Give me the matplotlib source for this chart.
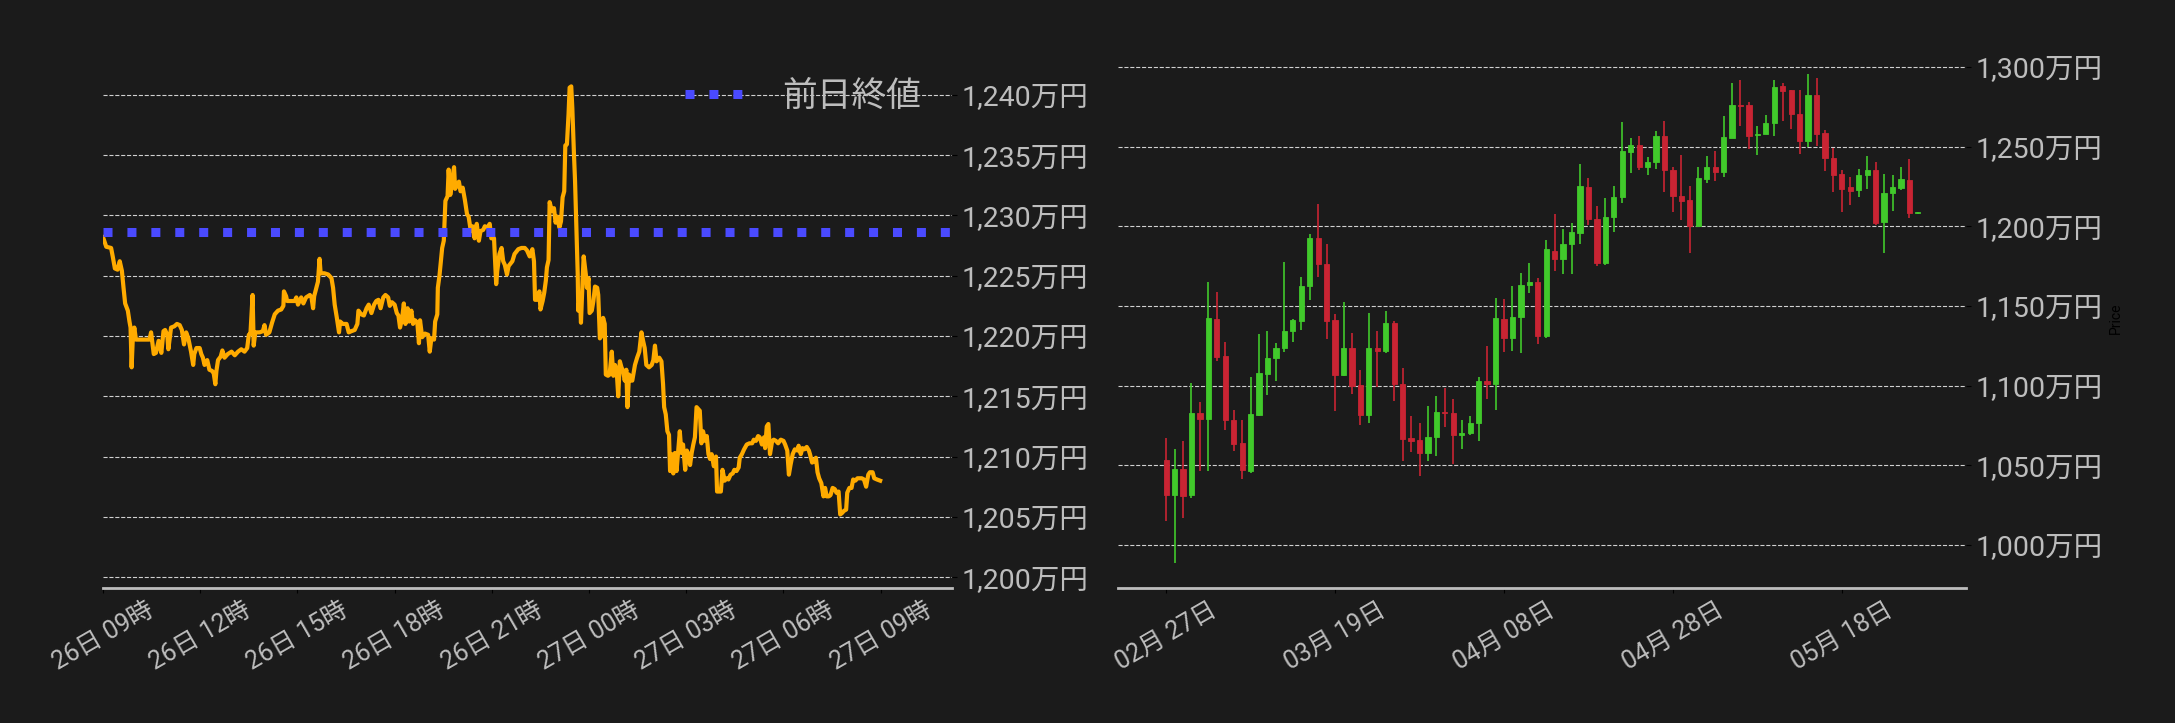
import matplotlib
matplotlib.use("Agg")
import matplotlib.pyplot as plt
import matplotlib.dates as mdates
from matplotlib.ticker import FuncFormatter, MultipleLocator
import numpy as np
import pandas as pd

plt.rcParams['font.family'] = ['Roboto', 'Noto Sans CJK JP', 'DejaVu Sans']

# --- 当日の値動き (26日 09時からの経過分, 万円) ---
minutes = [0, 6, 15, 18, 22, 27, 31, 35, 38, 41, 46, 49, 51, 53, 55, 58, 61, 64, 86, 89,
           94, 98, 103, 108, 112, 115, 119, 121, 126, 132, 137, 142, 146, 150, 154, 158, 163, 167, 169, 173,
           179, 182, 185, 188, 193, 197, 202, 205, 208, 210, 213, 218, 221, 225, 231, 238, 244, 250, 256, 262,
           267, 270, 273, 277, 279, 282, 290, 296, 299, 302, 308, 313, 318, 324, 330, 334, 335, 339, 341, 355,
           358, 361, 367, 371, 376, 383, 386, 389, 391, 395, 398, 401, 403, 410, 417, 423, 426, 429, 433, 437,
           439, 444, 451, 455, 460, 466, 471, 473, 478, 483, 488, 492, 497, 502, 506, 510, 514, 519, 523, 528,
           531, 535, 540, 544, 547, 550, 554, 557, 560, 564, 567, 571, 574, 578, 582, 585, 587, 591, 596, 602,
           605, 608, 613, 615, 619, 620, 623, 628, 631, 634, 638, 640, 643, 645, 648, 650, 652, 656, 659, 662,
           666, 670, 674, 677, 681, 684, 688, 692, 696, 699, 704, 707, 712, 716, 719, 724, 728, 730, 734, 738,
           741, 744, 748, 751, 758, 762, 769, 775, 781, 785, 790, 795, 798, 800, 804, 808, 810, 814, 817, 820,
           822, 825, 827, 831, 835, 838, 841, 845, 848, 851, 854, 856, 859, 862, 864, 867, 869, 872, 874, 877,
           879, 880, 883, 885, 888, 890, 894, 896, 899, 901, 905, 908, 911, 915, 917, 920, 923, 926, 929, 931,
           935, 938, 942, 945, 948, 951, 954, 957, 960, 963, 966, 969, 971, 974, 977, 980, 985, 989, 993, 997,
           1000, 1003, 1006, 1011, 1016, 1019, 1022, 1025, 1030, 1034, 1037, 1039, 1042, 1045, 1048, 1050, 1053, 1056, 1059, 1062,
           1065, 1068, 1071, 1074, 1078, 1081, 1084, 1087, 1090, 1093, 1096, 1099, 1103, 1105, 1108, 1111, 1115, 1118, 1121, 1124,
           1127, 1131, 1135, 1137, 1141, 1144, 1147, 1151, 1155, 1158, 1162, 1166, 1169, 1173, 1177, 1179, 1183, 1187, 1192, 1197,
           1202, 1205, 1209, 1213, 1216, 1220, 1224, 1226, 1229, 1232, 1235, 1239, 1242, 1246, 1250, 1255, 1260, 1263, 1267, 1270,
           1273, 1277, 1281, 1286, 1288, 1292, 1295, 1299, 1303, 1307, 1309, 1313, 1316, 1320, 1323, 1326, 1330, 1334, 1337, 1340,
           1344, 1347, 1351, 1355, 1358, 1362, 1365, 1368, 1372, 1376, 1378, 1382, 1386, 1389, 1393, 1397, 1402, 1405, 1409, 1413,
           1417, 1420, 1425, 1428, 1433, 1439]
prices = [1228.2, 1227.4, 1227.3, 1226.6, 1225.6, 1225.5, 1226.2, 1225.4, 1224.0, 1222.7, 1222.1, 1221.2, 1220.7, 1217.4, 1219.6, 1220.7, 1219.7, 1219.7, 1219.7, 1220.3,
          1218.5, 1218.6, 1219.6, 1218.6, 1220.4, 1220.5, 1220.1, 1218.9, 1220.7, 1220.8, 1221.0, 1220.9, 1220.5, 1219.3, 1220.3, 1219.8, 1218.7, 1217.6, 1218.5, 1219.0,
          1219.0, 1218.5, 1218.2, 1217.6, 1218.0, 1217.2, 1217.1, 1216.9, 1216.0, 1217.1, 1218.0, 1218.3, 1218.8, 1218.2, 1218.5, 1218.7, 1218.4, 1218.7, 1218.9, 1218.7,
          1219.0, 1220.1, 1220.2, 1223.4, 1219.2, 1220.3, 1220.3, 1220.4, 1220.9, 1220.1, 1220.3, 1221.1, 1221.8, 1222.1, 1222.2, 1222.5, 1223.7, 1223.3, 1222.9, 1222.9,
          1223.2, 1222.6, 1223.2, 1222.7, 1223.2, 1223.4, 1223.2, 1222.3, 1223.3, 1224.0, 1224.5, 1226.4, 1225.2, 1225.2, 1225.1, 1224.8, 1224.0, 1222.6, 1221.5, 1220.3,
          1221.2, 1221.0, 1221.0, 1220.3, 1220.4, 1220.5, 1221.0, 1222.1, 1221.8, 1221.7, 1222.3, 1222.6, 1221.9, 1222.6, 1222.9, 1223.0, 1222.3, 1223.2, 1223.4, 1223.2,
          1222.5, 1222.8, 1222.6, 1221.9, 1221.7, 1220.7, 1221.5, 1222.7, 1221.0, 1222.3, 1221.2, 1222.1, 1221.0, 1221.3, 1221.1, 1219.4, 1221.3, 1219.9, 1220.2, 1220.1,
          1218.7, 1219.8, 1219.7, 1221.2, 1221.8, 1224.0, 1225.0, 1227.3, 1227.9, 1231.2, 1231.6, 1233.8, 1231.7, 1232.3, 1233.4, 1234.0, 1232.2, 1232.6, 1232.8, 1232.0,
          1232.3, 1231.3, 1230.1, 1229.9, 1228.7, 1229.1, 1228.1, 1229.3, 1227.9, 1228.7, 1228.8, 1229.1, 1229.0, 1229.3, 1228.1, 1228.1, 1224.3, 1225.4, 1226.8, 1227.3,
          1226.2, 1225.9, 1225.1, 1225.8, 1226.2, 1226.8, 1227.2, 1227.3, 1227.3, 1227.1, 1226.6, 1227.2, 1226.2, 1223.0, 1223.0, 1223.7, 1222.2, 1222.9, 1223.6, 1224.6,
          1225.7, 1226.3, 1231.1, 1230.4, 1230.6, 1229.4, 1229.9, 1229.0, 1229.5, 1231.5, 1232.0, 1235.8, 1235.9, 1238.4, 1240.6, 1240.7, 1238.9, 1235.1, 1232.9, 1228.4,
          1225.1, 1222.1, 1223.4, 1221.1, 1224.6, 1226.6, 1225.1, 1224.0, 1224.8, 1221.9, 1222.1, 1222.9, 1224.1, 1224.0, 1223.4, 1219.8, 1220.0, 1221.5, 1221.0, 1216.8,
          1216.7, 1216.8, 1218.7, 1216.7, 1217.6, 1217.2, 1215.0, 1217.9, 1217.4, 1217.1, 1216.3, 1217.2, 1214.1, 1216.8, 1216.3, 1216.3, 1217.6, 1218.2, 1218.7, 1220.3,
          1219.6, 1219.0, 1217.6, 1217.4, 1217.6, 1218.0, 1219.2, 1217.9, 1218.2, 1217.9, 1216.0, 1214.1, 1213.5, 1212.1, 1211.8, 1208.8, 1210.2, 1208.6, 1210.3, 1208.8,
          1210.5, 1212.1, 1210.3, 1211.0, 1208.9, 1210.5, 1210.2, 1209.3, 1210.3, 1211.0, 1211.6, 1214.1, 1213.9, 1213.8, 1211.1, 1212.1, 1211.3, 1211.7, 1210.2, 1209.8,
          1210.2, 1209.2, 1210.0, 1207.1, 1207.1, 1207.1, 1208.9, 1208.0, 1208.2, 1208.1, 1208.5, 1208.6, 1208.9, 1208.8, 1209.1, 1209.9, 1210.2, 1210.6, 1211.0, 1211.1,
          1211.1, 1211.4, 1211.3, 1211.7, 1211.6, 1211.0, 1211.6, 1210.7, 1212.5, 1212.7, 1210.2, 1211.3, 1211.4, 1211.3, 1211.1, 1211.4, 1211.3, 1211.0, 1210.5, 1208.5,
          1209.3, 1210.2, 1210.6, 1210.5, 1210.9, 1210.2, 1210.7, 1210.6, 1210.8, 1210.5, 1210.2, 1209.5, 1209.6, 1209.9, 1208.7, 1208.2, 1207.8, 1206.7, 1207.4, 1206.7,
          1206.7, 1206.8, 1207.4, 1207.3, 1207.0, 1207.1, 1205.2, 1205.3, 1205.5, 1205.6, 1207.0, 1207.4, 1207.4, 1208.1, 1208.0, 1208.2, 1208.2, 1208.2, 1208.1, 1207.5,
          1208.5, 1208.7, 1208.7, 1208.2, 1208.1, 1208.0]
prev_close = 1228.6
start_time = "2025-05-26 09:00"

# --- 日足 (02月27日〜05月27日, 万円) ---
first_day = "2025-02-27"
opens = [1053.5, 1031.2, 1047.8, 1031.2, 1082.6, 1079.0, 1141.5, 1118.8, 1078.7, 1063.7,
         1046.3, 1081.5, 1107.2, 1117.1, 1123.5, 1134.1, 1140.5, 1162.3, 1192.9, 1176.5,
         1140.9, 1106.5, 1123.9, 1100.4, 1081.5, 1123.9, 1121.6, 1139.0, 1101.2, 1066.9,
         1065.6, 1057.5, 1067.7, 1083.6, 1083.0, 1068.8, 1070.0, 1076.4, 1103.1, 1100.8,
         1141.5, 1129.7, 1143.0, 1163.0, 1165.3, 1130.9, 1184.6, 1179.3, 1188.8, 1195.6,
         1224.9, 1204.8, 1176.8, 1205.6, 1218.3, 1246.5, 1251.2, 1237.0, 1240.2, 1256.3,
         1235.5, 1219.2, 1216.2, 1200.1, 1229.6, 1237.4, 1234.0, 1255.2, 1275.8, 1275.8,
         1257.1, 1257.8, 1264.6, 1287.7, 1285.2, 1270.7, 1253.3, 1282.6, 1258.2, 1243.1,
         1232.5, 1224.3, 1222.6, 1232.1, 1235.5, 1202.6, 1220.7, 1223.8, 1228.7, 1208.1]
highs = [1067.3, 1060.3, 1065.4, 1101.4, 1089.8, 1165.1, 1158.9, 1127.5, 1084.9, 1078.7,
         1105.5, 1132.4, 1134.3, 1126.9, 1177.6, 1142.0, 1168.3, 1195.2, 1213.7, 1189.1,
         1145.1, 1152.6, 1133.3, 1109.5, 1145.6, 1134.5, 1146.8, 1140.3, 1110.8, 1080.7,
         1076.8, 1087.4, 1093.2, 1098.7, 1091.9, 1078.1, 1080.7, 1105.7, 1124.6, 1155.1,
         1154.1, 1162.5, 1170.4, 1177.2, 1167.2, 1191.4, 1207.9, 1198.2, 1202.0, 1239.1,
         1230.0, 1212.4, 1217.9, 1225.3, 1265.4, 1255.5, 1256.3, 1243.6, 1259.9, 1266.3,
         1237.2, 1244.4, 1225.5, 1237.2, 1244.2, 1247.0, 1269.2, 1290.0, 1291.5, 1277.7,
         1263.1, 1270.1, 1291.9, 1289.6, 1285.2, 1285.2, 1295.8, 1292.8, 1260.1, 1248.9,
         1235.5, 1230.6, 1236.1, 1243.8, 1240.0, 1233.0, 1232.3, 1237.2, 1241.9, 1209.2]
lows = [1014.9, 988.4, 1017.0, 1029.7, 1046.3, 1046.3, 1115.2, 1072.0, 1059.0, 1041.4,
        1045.2, 1081.1, 1094.2, 1102.9, 1121.2, 1127.5, 1135.0, 1153.8, 1168.1, 1129.0,
        1083.8, 1105.9, 1094.9, 1075.4, 1076.6, 1099.1, 1120.5, 1090.2, 1052.7, 1058.4,
        1043.3, 1052.7, 1055.8, 1074.1, 1050.7, 1060.3, 1069.0, 1065.4, 1091.5, 1084.7,
        1121.0, 1121.8, 1120.5, 1158.3, 1126.3, 1129.7, 1171.9, 1170.2, 1170.2, 1189.1,
        1200.7, 1175.1, 1175.5, 1196.5, 1214.7, 1233.6, 1235.1, 1232.3, 1235.9, 1221.3,
        1208.8, 1203.9, 1183.1, 1199.4, 1227.2, 1228.3, 1230.8, 1255.2, 1262.9, 1248.5,
        1244.8, 1257.8, 1256.7, 1265.8, 1261.0, 1245.3, 1249.7, 1250.6, 1234.5, 1221.3,
        1208.8, 1213.2, 1218.3, 1223.4, 1200.7, 1183.1, 1209.4, 1222.6, 1205.0, 1207.5]
closes = [1031.2, 1047.8, 1030.6, 1082.6, 1079.0, 1142.2, 1117.8, 1078.3, 1063.3, 1046.9,
          1081.9, 1107.6, 1117.6, 1123.9, 1134.5, 1140.9, 1162.8, 1192.9, 1176.1, 1140.5,
          1106.5, 1123.9, 1099.5, 1081.5, 1123.9, 1121.6, 1139.0, 1100.8, 1066.4, 1065.2,
          1057.5, 1067.9, 1083.6, 1082.8, 1068.8, 1070.5, 1076.8, 1103.1, 1100.8, 1142.2,
          1129.7, 1143.2, 1163.4, 1165.3, 1130.9, 1185.4, 1179.3, 1189.1, 1196.1, 1225.5,
          1204.3, 1176.8, 1206.0, 1218.1, 1247.0, 1251.2, 1237.0, 1240.6, 1256.3, 1235.1,
          1219.0, 1215.8, 1200.1, 1230.0, 1237.4, 1234.0, 1255.7, 1275.8, 1275.2, 1256.5,
          1258.0, 1265.0, 1287.1, 1284.7, 1270.3, 1253.3, 1282.6, 1257.8, 1242.7, 1232.1,
          1223.2, 1221.9, 1231.9, 1235.5, 1202.0, 1221.1, 1224.3, 1229.4, 1208.1, 1209.2]

bg = '#1b1b1b'
txt = '#bdbdbd'
up_col = '#41c92b'
down_col = '#c92433'

fig = plt.figure(figsize=(21.75, 7.23), dpi=100, facecolor=bg)
ax1 = fig.add_axes([103 / 2175, 135 / 723, 849 / 2175, 539 / 723])
ax2 = fig.add_axes([1118 / 2175, 135 / 723, 848 / 2175, 539 / 723])

yen = FuncFormatter(lambda v, p: f'{v:,.0f}万円')

for ax in (ax1, ax2):
    ax.set_facecolor(bg)
    for s in ['top', 'left', 'right']:
        ax.spines[s].set_visible(False)
    ax.spines['bottom'].set_color(txt)
    ax.spines['bottom'].set_linewidth(2)
    ax.yaxis.tick_right()
    ax.yaxis.set_major_formatter(yen)
    ax.tick_params(axis='both', color='black', labelcolor=txt)
    ax.tick_params(axis='y', labelsize=20.5)
    ax.tick_params(axis='x', labelsize=18, labelrotation=30)
    ax.grid(axis='y', ls='--', color='#d0d0d0', lw=0.8)
    ax.set_axisbelow(True)

# 左: 24時間チャート
t0 = pd.Timestamp(start_time)
times = t0 + pd.to_timedelta(minutes, unit='m')
ax1.plot(times, prices, color='#ffab00', lw=3, zorder=3)
ax1.axhline(prev_close, color='#4a4aff', ls=':', lw=6.5, label='前日終値', zorder=4)
ax1.set_xlim(t0, t0 + pd.Timedelta(hours=26.2))
ax1.set_ylim(1199.1, 1243.8)
ax1.yaxis.set_major_locator(MultipleLocator(5))
ax1.xaxis.set_major_locator(mdates.HourLocator(byhour=range(0, 24, 3)))
ax1.xaxis.set_major_formatter(mdates.DateFormatter('%d日 %H時'))
ax1.legend(loc='upper right', frameon=False, fontsize=25, labelcolor=txt,
           handlelength=1.9, handletextpad=0.9)

# 右: 日足ローソク
days = mdates.date2num(pd.date_range(first_day, periods=len(opens), freq='D'))
o = np.array(opens)
c = np.array(closes)
cols = [up_col if cc >= oo else down_col for oo, cc in zip(o, c)]
ax2.vlines(days, lows, highs, colors=cols, lw=1.2, zorder=3)
ax2.bar(days, np.abs(c - o), bottom=np.minimum(o, c), width=0.62, color=cols,
        edgecolor=cols, linewidth=0.6, zorder=4)
ax2.set_xlim(days[0] - 5.7, days[-1] + 5.7)
ax2.set_ylim(973.0, 1311.2)
ax2.yaxis.set_major_locator(MultipleLocator(50))
ax2.set_xticks(days[::20])
ax2.xaxis.set_major_formatter(mdates.DateFormatter('%m月 %d日'))
ax2.yaxis.set_label_position('right')
ax2.set_ylabel('Price', color='black', fontsize=10)

fig.savefig('out.png', dpi=100, facecolor=bg)
